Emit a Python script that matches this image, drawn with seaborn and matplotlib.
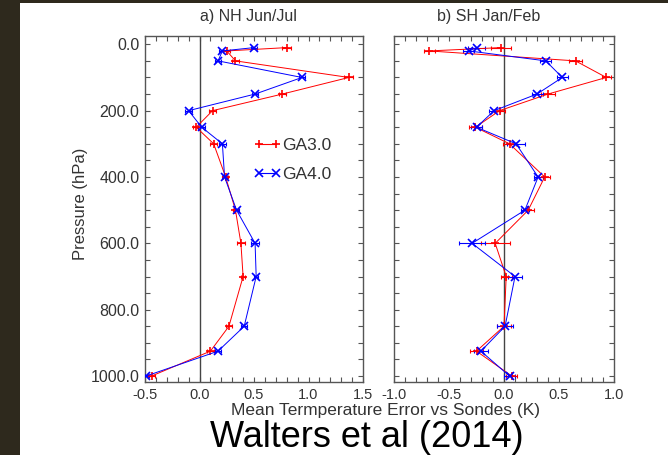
import numpy as np
import pandas as pd
import seaborn as sns
from matplotlib import pyplot as plt
from matplotlib.patches import Rectangle

# pressure levels (hPa)
levels = [10, 20, 50, 100, 150, 200, 250, 300, 400, 500, 600, 700, 850, 925, 1000]

# a) NH Jun/Jul
nh_ga3 = [0.80, 0.25, 0.33, 1.37, 0.76, 0.12, -0.03, 0.13, 0.24, 0.33, 0.38, 0.40, 0.27, 0.10, -0.44]
nh_ga4 = [0.50, 0.21, 0.17, 0.94, 0.51, -0.10, 0.02, 0.21, 0.23, 0.34, 0.51, 0.52, 0.41, 0.17, -0.49]
nh_ga3_err = [0.04, 0.03, 0.03, 0.04, 0.03, 0.03, 0.03, 0.03, 0.02, 0.02, 0.04, 0.02, 0.03, 0.03, 0.03]
nh_ga4_err = [0.03, 0.03, 0.03, 0.03, 0.03, 0.03, 0.03, 0.03, 0.02, 0.02, 0.04, 0.02, 0.03, 0.03, 0.03]

# b) SH Jan/Feb
sh_ga3 = [-0.03, -0.68, 0.65, 0.93, 0.40, -0.04, -0.26, 0.05, 0.37, 0.22, -0.08, 0.02, 0.00, -0.25, 0.07]
sh_ga4 = [-0.25, -0.32, 0.38, 0.53, 0.30, -0.09, -0.25, 0.11, 0.31, 0.19, -0.29, 0.10, 0.01, -0.21, 0.05]
sh_ga3_err = [0.09, 0.05, 0.06, 0.04, 0.06, 0.05, 0.06, 0.06, 0.05, 0.05, 0.13, 0.05, 0.06, 0.06, 0.05]
sh_ga4_err = [0.08, 0.05, 0.05, 0.05, 0.05, 0.05, 0.05, 0.08, 0.04, 0.04, 0.12, 0.06, 0.07, 0.06, 0.05]

models = ['GA3.0', 'GA4.0']
colors = {'GA3.0': '#ff0000', 'GA4.0': '#0000ff'}
marks = {'GA3.0': '+', 'GA4.0': 'x'}

sns.set_style('ticks')
plt.rcParams['font.family'] = ['Liberation Sans', 'DejaVu Sans']
plt.rcParams['text.color'] = '#333333'
plt.rcParams['xtick.color'] = '#555555'
plt.rcParams['ytick.color'] = '#555555'
plt.rcParams['xtick.labelcolor'] = '#333333'
plt.rcParams['ytick.labelcolor'] = '#333333'

W, H = 668, 455
fig = plt.figure(figsize=(W / 100, H / 100), dpi=100, facecolor='#2e291d')
fig.patches.append(Rectangle((20 / W, 0), 1, 452 / H, transform=fig.transFigure,
                             facecolor='white', edgecolor='none', zorder=-10))

ax1 = fig.add_axes([145 / W, 73 / H, 218 / W, 346 / H])
ax2 = fig.add_axes([394 / W, 73 / H, 220 / W, 346 / H])


def make_df(ga3, ga4, e3, e4):
    return pd.DataFrame({
        'p': levels * 2,
        'err': ga3 + ga4,
        'sd': e3 + e4,
        'model': ['GA3.0'] * len(levels) + ['GA4.0'] * len(levels),
    })


panels = [
    (ax1, make_df(nh_ga3, nh_ga4, nh_ga3_err, nh_ga4_err), 'a) NH Jun/Jul', (-0.5, 1.5), 0.475),
    (ax2, make_df(sh_ga3, sh_ga4, sh_ga3_err, sh_ga4_err), 'b) SH Jan/Feb', (-1.0, 1.0), 0.432),
]

for ax, df, title, xlim, tx in panels:
    ax.axvline(0, color='#444444', lw=1.0, zorder=1)
    for m in models:
        d = df[df['model'] == m]
        ax.errorbar(d['err'], d['p'], xerr=d['sd'], fmt='none', ecolor=colors[m],
                    elinewidth=0.8, capsize=1.6, capthick=0.8, zorder=2)
    sns.lineplot(data=df, x='err', y='p', hue='model', style='model',
                 palette=colors, markers=marks, dashes=False, sort=False,
                 orient='y', estimator=None, lw=0.7, ms=6, mew=1.2, mec='auto',
                 legend=(ax is ax1), ax=ax, zorder=3)
    ax.set_xlim(*xlim)
    ax.set_ylim(1018, -25)
    ax.set_yticks([0, 200, 400, 600, 800, 1000])
    ax.set_yticks(np.arange(0, 1001, 50), minor=True)
    ax.set_xticks(np.arange(xlim[0], xlim[1] + 0.01, 0.5))
    ax.set_xticks(np.arange(xlim[0], xlim[1] + 0.01, 0.1), minor=True)
    ax.xaxis.set_major_formatter(plt.FormatStrFormatter('%.1f'))
    ax.yaxis.set_major_formatter(plt.FormatStrFormatter('%.1f'))
    ax.tick_params(which='both', direction='in', top=True, right=True,
                   length=3.5, width=0.8, labelsize=10.5, pad=4)
    ax.tick_params(axis='y', labelsize=11.5)
    ax.set_xlabel('')
    ax.set_ylabel('')
    for s in ax.spines.values():
        s.set_color('#555555')
        s.set_linewidth(1.0)
    ax.text(tx, 1.035, title, transform=ax.transAxes, ha='center', va='bottom',
            fontsize=11.5)

ax2.tick_params(labelleft=False)

handles, labels = ax1.get_legend_handles_labels()
for h in handles:
    h.set_markeredgecolor(h.get_color())
    h.set_markersize(6)
    h.set_markeredgewidth(1.2)
    h.set_linewidth(0.8)
ax1.legend(handles, labels, numpoints=2, frameon=False, fontsize=12.5,
           handlelength=1.6, handletextpad=0.05, labelspacing=0.8,
           loc='upper left', bbox_to_anchor=(0.465, 0.725), borderaxespad=0)

fig.text(81 / W, 1 - 204 / H, 'Pressure (hPa)', rotation=90, ha='center',
         va='center', fontsize=12)
fig.text(386 / W, 1 - 411 / H, 'Mean Termperature Error vs Sondes (K)',
         ha='center', va='center', fontsize=12.5)
fig.text(367 / W, 1 - 447 / H, 'Walters et al (2014)', ha='center',
         va='baseline', fontsize=26, color='black')

fig.savefig('out.png', dpi=100, facecolor=fig.get_facecolor())
